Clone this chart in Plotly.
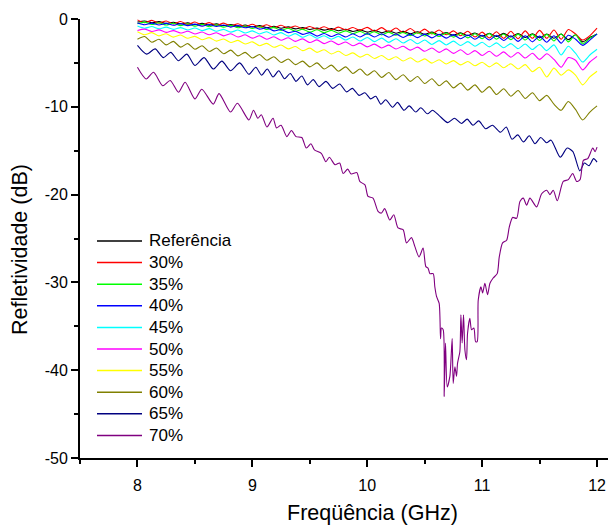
import numpy as np
import plotly.graph_objects as go

# Frequency grid (GHz) for the smoother upper curves
freq_grid = list(np.linspace(8.0, 12.0, 65))

ref = [-0.35,-0.22,-0.42,-0.3,-0.5,-0.37,-0.57,-0.44,-0.64,-0.5,
       -0.7,-0.56,-0.76,-0.62,-0.83,-0.69,-0.9,-0.76,-0.98,-0.83,
       -1.05,-0.9,-1.12,-0.97,-1.2,-1.04,-1.27,-1.1,-1.34,-1.17,
       -1.42,-1.24,-1.5,-1.3,-1.56,-1.36,-1.62,-1.41,-1.68,-1.46,
       -1.74,-1.5,-1.8,-1.55,-1.85,-1.58,-1.9,-1.6,-1.95,-1.62,
       -2.0,-1.64,-2.05,-1.66,-2.1,-1.68,-2.15,-1.7,-2.2,-1.7,
       -2.35,-1.8,-2.6,-2.1,-1.75]
p30 = [-0.1,-0.43,-0.16,-0.49,-0.22,-0.55,-0.28,-0.61,-0.35,-0.68,
       -0.41,-0.74,-0.47,-0.8,-0.54,-0.87,-0.6,-0.93,-0.66,-0.99,
       -0.72,-1.05,-0.79,-1.12,-0.85,-1.17,-0.89,-1.21,-0.93,-1.25,
       -0.97,-1.29,-0.95,-1.4,-0.98,-1.48,-1.03,-1.55,-1.08,-1.62,
       -1.15,-1.7,-1.25,-1.8,-1.35,-1.9,-1.4,-2.05,-1.5,-2.15,
       -1.45,-2.2,-1.4,-2.25,-1.35,-2.2,-1.3,-2.2,-1.25,-2.3,
       -1.2,-1.7,-2.4,-1.9,-1.05]
p35 = [-0.55,-0.36,-0.63,-0.42,-0.69,-0.48,-0.75,-0.54,-0.82,-0.61,
       -0.88,-0.67,-0.94,-0.73,-1.0,-0.79,-1.08,-0.86,-1.2,-0.95,
       -1.3,-1.05,-1.4,-1.15,-1.5,-1.22,-1.56,-1.29,-1.62,-1.35,
       -1.68,-1.41,-1.75,-1.45,-1.81,-1.49,-1.85,-1.53,-1.89,-1.57,
       -1.93,-1.58,-2.0,-1.6,-2.07,-1.65,-2.15,-1.68,-2.25,-1.67,
       -2.3,-1.7,-2.35,-1.72,-2.4,-1.75,-2.45,-1.75,-2.5,-1.7,
       -2.6,-1.8,-2.85,-2.2,-1.7]
p40 = [-0.45,-0.65,-0.47,-0.68,-0.5,-0.72,-0.52,-0.76,-0.58,-0.82,
       -0.62,-0.86,-0.68,-0.92,-0.74,-1.0,-0.85,-1.15,-1.0,-1.35,
       -1.2,-1.55,-1.4,-1.75,-1.55,-1.95,-1.65,-2.0,-1.7,-2.05,
       -1.68,-2.05,-1.65,-2.05,-1.68,-2.08,-1.7,-2.1,-1.72,-2.12,
       -1.72,-2.15,-1.75,-2.18,-1.78,-2.25,-1.82,-2.3,-1.85,-2.4,
       -1.85,-2.45,-1.9,-2.55,-1.9,-2.6,-1.95,-2.65,-1.9,-2.75,
       -1.85,-2.3,-3.0,-2.4,-1.7]
p45 = [-0.8,-1.05,-0.86,-1.12,-0.92,-1.18,-0.98,-1.25,-1.02,-1.32,
       -1.1,-1.4,-1.18,-1.5,-1.26,-1.6,-1.35,-1.7,-1.45,-1.82,
       -1.55,-1.95,-1.67,-2.08,-1.8,-2.2,-1.9,-2.3,-1.98,-2.4,
       -2.05,-2.5,-2.1,-2.58,-2.18,-2.66,-2.25,-2.74,-2.33,-2.82,
       -2.4,-2.9,-2.46,-2.96,-2.52,-3.02,-2.58,-3.1,-2.65,-3.18,
       -2.72,-3.28,-2.8,-3.38,-2.85,-3.48,-2.9,-3.6,-2.95,-4.1,
       -3.1,-3.9,-4.9,-4.1,-3.45]
p50 = [-1.3,-1.15,-1.42,-1.24,-1.52,-1.32,-1.6,-1.4,-1.7,-1.48,
       -1.8,-1.57,-1.92,-1.68,-2.05,-1.8,-2.18,-1.9,-2.3,-2.02,
       -2.42,-2.14,-2.55,-2.26,-2.68,-2.38,-2.8,-2.5,-2.92,-2.62,
       -3.05,-2.75,-3.18,-2.86,-3.3,-2.98,-3.42,-3.1,-3.55,-3.2,
       -3.68,-3.3,-3.8,-3.4,-3.92,-3.5,-4.05,-3.6,-4.15,-3.68,
       -4.25,-3.75,-4.35,-3.82,-4.45,-3.9,-4.6,-3.95,-4.6,-5.5,
       -4.4,-4.7,-5.8,-4.9,-4.25]
p55 = [-1.45,-1.8,-1.55,-1.92,-1.68,-2.06,-1.82,-2.2,-1.98,-2.36,
       -2.12,-2.52,-2.28,-2.68,-2.44,-2.84,-2.6,-3.04,-2.78,-3.22,
       -2.96,-3.4,-3.14,-3.6,-3.32,-3.8,-3.5,-3.98,-3.68,-4.16,
       -3.86,-4.34,-4.02,-4.5,-4.16,-4.64,-4.3,-4.78,-4.42,-4.9,
       -4.54,-5.02,-4.64,-5.12,-4.74,-5.22,-4.84,-5.32,-4.92,-5.45,
       -5.0,-5.55,-5.1,-5.7,-5.2,-6.0,-5.5,-6.6,-5.6,-6.4,
       -5.8,-6.4,-7.5,-6.6,-5.95]
p60 = [-2.3,-2.0,-2.65,-2.3,-2.95,-2.55,-3.2,-2.8,-3.45,-3.05,
       -3.7,-3.3,-3.95,-3.55,-4.2,-3.8,-4.45,-4.05,-4.7,-4.3,
       -4.95,-4.55,-5.2,-4.8,-5.45,-5.0,-5.7,-5.25,-5.95,-5.45,
       -6.2,-5.7,-6.4,-5.9,-6.65,-6.1,-6.9,-6.35,-7.1,-6.55,
       -7.35,-6.8,-7.6,-7.05,-7.85,-7.3,-8.1,-7.5,-8.35,-7.7,
       -8.6,-7.95,-8.8,-8.15,-9.05,-8.4,-9.3,-8.7,-9.7,-10.4,
       -9.4,-10.3,-11.5,-10.6,-9.9]

f65 = [8.0, 8.08, 8.154, 8.226, 8.29, 8.357, 8.43, 8.5, 8.58, 8.66, 8.735, 8.81, 8.89, 8.97,
       9.03, 9.08, 9.13, 9.18, 9.23, 9.28, 9.33, 9.38, 9.43, 9.48, 9.53, 9.58, 9.64, 9.7, 9.76,
       9.82, 9.87, 9.93, 9.98, 10.03, 10.074, 10.118, 10.161, 10.22, 10.263, 10.32, 10.365,
       10.423, 10.466, 10.524, 10.568, 10.626, 10.7, 10.76, 10.82, 10.87, 10.92, 10.97, 11.03,
       11.09, 11.16, 11.21, 11.26, 11.31, 11.36, 11.41, 11.46, 11.51, 11.56, 11.6, 11.68, 11.74,
       11.79, 11.85, 11.89, 11.93, 11.97, 12.0]
p65 = [-3.0, -4.0, -3.4, -4.4, -3.8, -4.75, -4.0, -5.3, -4.4, -5.7, -4.8, -5.9, -5.0, -6.3,
       -5.5, -6.4, -5.7, -6.6, -5.9, -6.8, -6.2, -7.1, -6.5, -7.5, -6.9, -7.7, -7.1, -7.9, -7.4,
       -8.3, -7.9, -8.7, -8.4, -9.1, -8.8, -9.7, -9.2, -10.05, -9.5, -10.4, -9.9,
       -10.6, -10.1, -10.8, -10.4, -11.0, -11.8, -11.3, -11.9, -11.4, -12.1, -11.6, -12.5,
       -12.1, -12.9, -12.3, -13.7, -13.2, -14.0, -13.3, -14.2, -13.5, -14.1, -13.8, -15.75, -14.7,
       -15.1, -17.3, -16.4, -16.7, -15.9, -16.3]

f70 = [8.0, 8.076, 8.14, 8.22, 8.285, 8.357, 8.415, 8.5, 8.56, 8.66, 8.71, 8.81, 8.87, 8.97,
       9.01, 9.048, 9.078, 9.127, 9.18, 9.21, 9.25, 9.3, 9.34, 9.38, 9.43, 9.47, 9.51, 9.54, 9.6,
       9.64, 9.67, 9.72, 9.76, 9.79, 9.83, 9.86, 9.91, 9.935, 9.98, 10.007, 10.05, 10.094,
       10.124, 10.152, 10.196, 10.231, 10.268, 10.312, 10.342, 10.385, 10.414, 10.451, 10.486,
       10.51, 10.53, 10.545, 10.574, 10.588, 10.603, 10.626, 10.638, 10.646, 10.661, 10.67,
       10.681, 10.696, 10.719, 10.739, 10.748, 10.763, 10.777, 10.786, 10.806, 10.815, 10.826,
       10.838, 10.85, 10.864, 10.873, 10.893, 10.908, 10.928, 10.943, 10.957, 10.966, 10.99,
       11.004, 11.024, 11.047, 11.068, 11.096, 11.131, 11.149, 11.178, 11.213, 11.236, 11.265,
       11.3, 11.329, 11.358, 11.387, 11.416, 11.474, 11.518, 11.562, 11.59, 11.619, 11.654,
       11.706, 11.75, 11.788, 11.823, 11.852, 11.881, 11.919, 11.963, 11.983, 12.0]
p70 = [-5.5, -6.83, -6.07, -7.6, -7.0, -8.35, -7.2, -9.1, -8.0, -9.7, -8.5, -10.6, -9.6, -11.5,
       -10.4, -11.3, -10.9, -12.3, -11.3, -12.4, -12.1, -13.4, -12.7, -13.4, -13.5, -14.7, -14.2,
       -14.9, -15.3, -16.25, -15.75, -16.6, -16.4, -17.6, -17.1, -17.65, -17.5, -18.5, -18.9,
       -20.2, -20.4, -21.9, -22.1, -21.6, -22.9, -22.3, -23.8, -24.0, -25.5, -24.9, -25.9, -27.1,
       -26.1, -28.2, -28.4, -29.0, -29.0, -30.5, -31.6, -32.4, -36.4, -35.2, -35.4, -43.0, -36.9,
       -41.9, -40.7, -36.4, -41.5, -39.6, -40.7, -39.2, -37.9, -33.7, -36.9, -33.7, -37.7, -38.8,
       -35.8, -34.1, -35.4, -35.2, -36.75, -36.75, -32.0, -30.5, -31.2, -30.1, -31.4, -30.1,
       -29.5, -29.0, -27.1, -25.5, -25.2, -23.7, -22.6, -22.7, -20.8, -20.4, -21.2, -20.4, -21.4,
       -19.9, -19.5, -20.0, -19.5, -20.7, -18.5, -18.3, -17.6, -18.5, -18.3, -16.1, -15.9, -14.7,
       -15.1, -14.6]

names = ["Referência", "30%", "35%", "40%", "45%", "50%", "55%", "60%", "65%", "70%"]
colors = ["#000000", "#FF0000", "#00FF00", "#0000FF", "#00FFFF", "#FF00FF", "#FFFF00",
          "#808000", "#000080", "#800080"]
xs = [freq_grid] * 8 + [f65, f70]
ys = [ref, p30, p35, p40, p45, p50, p55, p60, p65, p70]

x_tickvals = [8, 9, 10, 11, 12]
x_ticktext = ["8", "9", "10", "11", "12"]
y_tickvals = [0, -10, -20, -30, -40, -50]
y_ticktext = ["0", "-10", "-20", "-30", "-40", "-50"]

FONT = "Liberation Sans, Arial, Helvetica, sans-serif"

fig = go.Figure()
for name, col, x, y in zip(names, colors, xs, ys):
    fig.add_trace(go.Scatter(x=x, y=y, mode="lines", name=name, showlegend=False,
                             line=dict(color=col, width=1.1, shape="spline", smoothing=0.7)))

axis_common = dict(showline=True, linecolor="black", linewidth=2, ticks="outside",
                   ticklen=7, tickwidth=1.5, tickcolor="black", showgrid=False,
                   zeroline=False, tickfont=dict(family=FONT, size=16, color="black"))

fig.update_xaxes(range=[7.5, 12.165], tickmode="array", tickvals=x_tickvals, ticktext=x_ticktext,
                 ticklabelstandoff=5,
                 minor=dict(ticks="outside", ticklen=4, tickwidth=1.5, tickcolor="black",
                            tick0=7.5, dtick=0.5, showgrid=False),
                 **axis_common)
fig.update_yaxes(range=[-50, 0], tickmode="array", tickvals=y_tickvals, ticktext=y_ticktext,
                 minor=dict(ticks="outside", ticklen=4, tickwidth=1.5, tickcolor="black",
                            tick0=-5, dtick=5, showgrid=False),
                 **axis_common)

# Plot area in page pixels: x 80..616, y 19..458 (page body has an 8px margin)
PX0, PX1, PY0, PY1 = 80, 616, 19, 458
def px_x(px):
    return (px - PX0) / (PX1 - PX0)
def px_y(py):
    return (PY1 - py) / (PY1 - PY0)

shapes = []
annotations = []
for k, (name, col) in enumerate(zip(names, colors)):
    yc = px_y(241 + 21.6 * k)
    shapes.append(dict(type="line", xref="paper", yref="paper",
                       x0=px_x(97), x1=px_x(142), y0=yc, y1=yc,
                       line=dict(color=col, width=1.5)))
    annotations.append(dict(text=name, xref="paper", yref="paper", x=px_x(147), y=yc,
                            xanchor="left", yanchor="middle", showarrow=False,
                            font=dict(family=FONT, size=17, color="black")))

annotations += [
    dict(text="Freqüência (GHz)", xref="paper", yref="paper", x=px_x(372), y=px_y(513),
         xanchor="center", yanchor="middle", showarrow=False,
         font=dict(family=FONT, size=21.5, color="black")),
    dict(text="Refletividade (dB)", xref="paper", yref="paper", x=px_x(20), y=px_y(250),
         xanchor="center", yanchor="middle", showarrow=False, textangle=-90,
         font=dict(family=FONT, size=21.5, color="black")),
]

fig.update_layout(
    width=608, height=518,
    margin=dict(l=72, r=0, t=11, b=68),
    plot_bgcolor="white", paper_bgcolor="white",
    font=dict(family=FONT, color="black"),
    showlegend=False,
    shapes=shapes,
    annotations=annotations,
)

fig.write_html("out.html")
